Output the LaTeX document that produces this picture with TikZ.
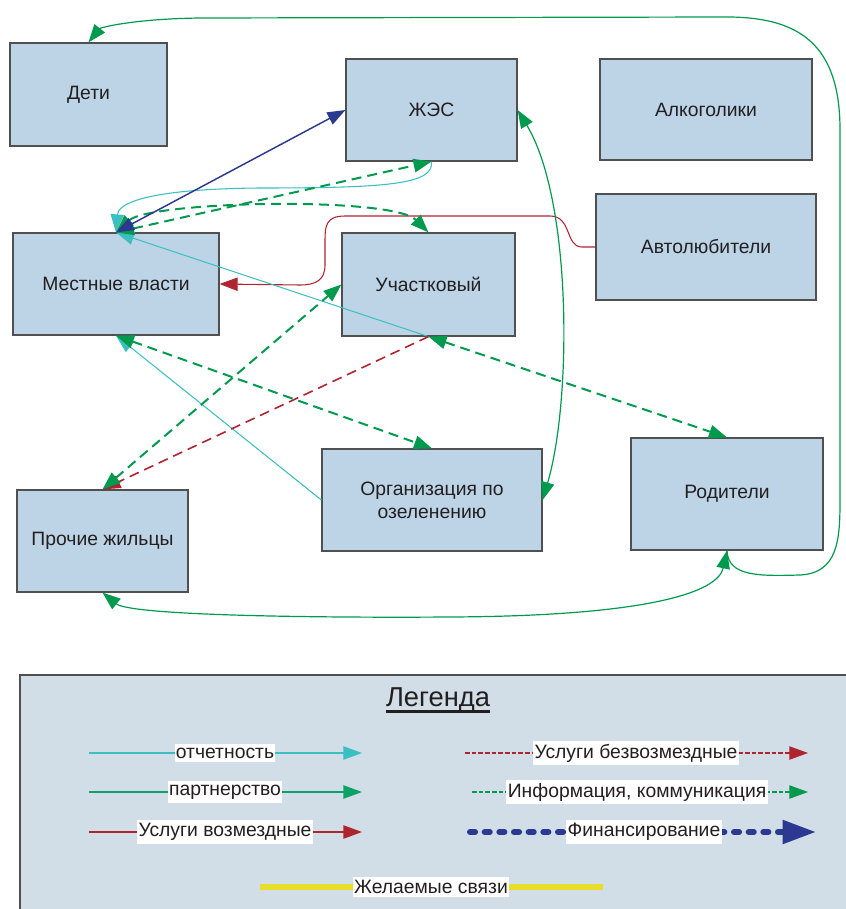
\documentclass[tikz,border=0pt]{standalone}
\usepackage{fontspec}
\setmainfont{Liberation Sans}
\usetikzlibrary{arrows.meta}
\definecolor{boxfill}{HTML}{BCD4E6}
\definecolor{boxline}{HTML}{505050}
\definecolor{legfill}{HTML}{D1DEE7}
\definecolor{txt}{HTML}{231F20}
\definecolor{cyanc}{HTML}{3BBFC0}
\definecolor{greenc}{HTML}{009A4E}
\definecolor{redc}{HTML}{AF2431}
\definecolor{navyc}{HTML}{2B3990}
\definecolor{yellowc}{HTML}{E8DE2A}
\begin{document}
\begin{tikzpicture}[x=0.75pt,y=-0.75pt,
  box/.style={draw=boxline, fill=boxfill, line width=0.9pt, align=center,
    font=\fontsize{14.5}{17.25}\selectfont, text=txt, inner sep=0pt},
  cyanline/.style={draw=cyanc, line width=0.8pt, -{Triangle[length=13.5pt,width=10pt]}},
  greenline/.style={draw=greenc, line width=0.9pt, {Triangle[length=13.5pt,width=10pt]}-{Triangle[length=13.5pt,width=10pt]}},
  greendash/.style={draw=greenc, line width=1.5pt, dash pattern=on 7.5pt off 4.5pt, {Triangle[length=13.5pt,width=10pt]}-{Triangle[length=13.5pt,width=10pt]}},
  reddash/.style={draw=redc, line width=1.2pt, dash pattern=on 7.5pt off 4.5pt, -{Triangle[length=13.5pt,width=10pt]}},
  redline/.style={draw=redc, line width=0.8pt, -{Triangle[length=13.5pt,width=10pt]}},
  navyline/.style={draw=navyc, line width=1.1pt, {Triangle[length=13.5pt,width=10pt]}-{Triangle[length=13.5pt,width=10pt]}},
  lbl/.style={fill=white, inner xsep=1pt, inner ysep=2.5pt, text=txt, font=\fontsize{14.5}{17}\selectfont}
]
\useasboundingbox (0,0) rectangle (845,909);

% boxes
\node[box, minimum width=117.75pt, minimum height=77.25pt] (deti) at (88.5,94.5) {Дети};
\node[box, minimum width=128.25pt, minimum height=76.5pt] (zhes) at (431.5,110) {ЖЭС};
\node[box, minimum width=159pt, minimum height=75.75pt] (alko) at (706,109.5) {Алкоголики};
\node[box, minimum width=165pt, minimum height=79.5pt] (avto) at (706,247) {Автолюбители};
\node[box, minimum width=154.5pt, minimum height=76.5pt] (vlast) at (116,284) {Местные власти};
\node[box, minimum width=129.75pt, minimum height=77.25pt] (uch) at (428.5,284.5) {Участковый};
\node[box, minimum width=165pt, minimum height=76.5pt] (org) at (432,500) {Организация по\\озеленению};
\node[box, minimum width=144pt, minimum height=84pt] (rod) at (727,494) {Родители};
\node[box, minimum width=128.25pt, minimum height=76.5pt] (proch) at (102.5,541) {Прочие жильцы};

% connectors
\draw[redline] (avto.west) -- (582,247) .. controls (565,247) and (572,216) .. (550,216)
  -- (345,216) .. controls (326,216) and (325,226) .. (325,240) -- (325,265)
  .. controls (325,280) and (316,285) .. (300,285) -- (vlast.east);
\draw[greenline] (zhes.east) .. controls (572,200) and (572,400) .. (org.east);
\draw[greenline] (proch.south) .. controls (130,615) and (300,618) .. (450,617)
  .. controls (650,616) and (718,592) .. (rod.south);
\draw[draw=greenc, line width=0.9pt, -{Triangle[length=13.5pt,width=10pt]}] (rod.south)
  .. controls (728,577) and (760,576) .. (800,575)
  .. controls (838,573) and (840,540) .. (840,500) -- (840,130)
  .. controls (840,45) and (800,18) .. (730,17) -- (200,18)
  .. controls (130,19) and (100,28) .. (deti.north);
\draw[cyanline] (zhes.south) .. controls (434,184) and (390,188) .. (260,188)
  .. controls (140,189) and (118,205) .. (vlast.north);
\draw[cyanline] (uch.south) -- (vlast.north);
\draw[cyanline] (org.west) -- (vlast.south);
\draw[reddash] (uch.south) -- (proch.north);
\draw[greendash] (proch.north) -- (uch.west);
\draw[greendash] (uch.south) -- (rod.north);
\draw[greendash] (vlast.south) -- (org.north);
\draw[greendash] (vlast.north) .. controls (150,201) and (392,196) .. (uch.north);
\draw[greendash] (vlast.north) -- (zhes.south);
\draw[navyline] (vlast.north) -- (zhes.west);

% legend
\node[draw=boxline, fill=legfill, line width=0.9pt, minimum width=622.5pt, minimum height=180pt, inner sep=0pt] (legend) at (435,795) {};
\node[text=txt, font=\fontsize{20.5}{24}\selectfont, inner sep=0pt] (legtitle) at (438,700) {Легенда};
\draw[draw=txt, line width=1.8pt] ([yshift=-3.5pt]legtitle.base west) -- ([yshift=-3.5pt]legtitle.base east);

\coordinate (a1) at (89,753);  \coordinate (b1) at (362,753);
\coordinate (a2) at (89,792);  \coordinate (b2) at (362,792);
\coordinate (a3) at (89,832);  \coordinate (b3) at (362,832);
\coordinate (c1) at (465,753); \coordinate (d1) at (808,753);
\coordinate (c2) at (472,792); \coordinate (d2) at (808,792);
\coordinate (c3) at (470,832); \coordinate (d3) at (816,832);
\coordinate (e1) at (260,887); \coordinate (f1) at (603,887);

\draw[draw=cyanc, line width=0.9pt, -{Triangle[length=14pt,width=10pt]}] (a1) -- (b1);
\draw[draw=greenc!80!cyanc, line width=1.1pt, -{Triangle[length=14pt,width=10pt]}] (a2) -- (b2);
\draw[draw=redc, line width=1pt, -{Triangle[length=14pt,width=10pt]}] (a3) -- (b3);
\draw[draw=redc, line width=0.8pt, dash pattern=on 3.5pt off 1.5pt, -{Triangle[length=14pt,width=10pt]}] (c1) -- (d1);
\draw[draw=greenc, line width=0.8pt, dash pattern=on 3.5pt off 1.5pt, -{Triangle[length=14pt,width=10pt]}] (c2) -- (d2);
\draw[draw=navyc, line width=4.5pt, line cap=round, dash pattern=on 3.8pt off 7.2pt, -{Triangle[length=25pt,width=17pt]}] (c3) -- (d3);
\draw[draw=yellowc, line width=4pt] (e1) -- (f1);

\node[lbl] (l1) at (225,753) {отчетность};
\node[lbl] (l2) at (225,792) {партнерство};
\node[lbl] (l3) at (225,832) {Услуги возмездные};
\node[lbl] (l4) at (636,753) {Услуги безвозмездные};
\node[lbl] (l5) at (637,792) {Информация, коммуникация};
\node[lbl] (l6) at (644,832) {Финансирование};
\node[lbl] (l7) at (431,887) {Желаемые связи};
\end{tikzpicture}
\end{document}
